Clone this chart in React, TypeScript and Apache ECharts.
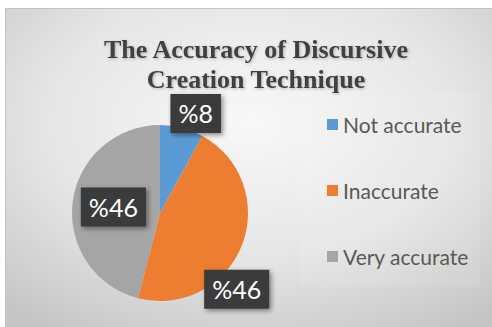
import React, { useEffect, useRef } from "react";
import * as echarts from "echarts";

const categories = ["Not accurate", "Inaccurate", "Very accurate"];
const values = [8, 46, 46];
const titleText = "The Accuracy of Discursive\nCreation Technique";

const colors = ["#5b9bd5", "#ed7d31", "#a5a5a5"];
const labelOffsets = [
  [24, -54],
  [33, 59],
  [0, 0],
];

export default function App() {
  const ref = useRef<HTMLDivElement>(null);
  useEffect(() => {
    if (!ref.current) return;
    const chart = echarts.init(ref.current, null, { renderer: "svg" });
    const data = categories.map((name, i) => ({
      name,
      value: values[i],
      itemStyle: { color: colors[i] },
      label: { offset: labelOffsets[i] },
    }));
    chart.setOption({
      animation: false,
      backgroundColor: "#ffffff",
      graphic: [
        {
          type: "rect",
          shape: { x: 5.5, y: 8.5, width: 492, height: 325 },
          style: {
            fill: new echarts.graphic.RadialGradient(0.5, 0.35, 0.75, [
              { offset: 0, color: "#f8f8f8" },
              { offset: 0.55, color: "#e6e6e6" },
              { offset: 1, color: "#c6c6c6" },
            ]),
            stroke: "#c4c4c4",
            lineWidth: 1,
          },
          z: -10,
        },
        {
          type: "rect",
          shape: { x: 300, y: 92, width: 180, height: 195 },
          style: {
            fill: "rgba(255,255,255,0.08)",
            shadowBlur: 3,
            shadowColor: "rgba(0,0,0,0.03)",
          },
          z: -9,
        },
      ],
      title: {
        text: titleText,
        left: 251,
        textAlign: "center",
        top: 29,
        textStyle: {
          fontFamily: "Liberation Serif",
          fontWeight: "bold",
          fontSize: 26,
          lineHeight: 30,
          color: "#404040",
          textShadowColor: "rgba(0,0,0,0.25)",
          textShadowBlur: 3,
          textShadowOffsetX: 1,
          textShadowOffsetY: 1,
        },
      },
      legend: {
        orient: "vertical",
        left: 322,
        top: 109,
        itemWidth: 11,
        itemHeight: 11,
        itemGap: 45,
        icon: "rect",
        textStyle: {
          fontFamily: "Lato",
          fontSize: 21,
          color: "#595959",
          padding: [0, 0, 0, 0],
        },
        data: categories,
      },
      series: [
        {
          type: "pie",
          center: [160, 213],
          radius: 88,
          startAngle: 90,
          clockwise: true,
          data,
          itemStyle: { borderWidth: 0 },
          label: {
            show: true,
            position: "inside",
            formatter: (p: any) => "%" + p.value,
            fontFamily: "Lato",
            fontSize: 25,
            color: "#ffffff",
            backgroundColor: "#3a3a3a",
            padding: [8, 8, 6, 8],
            shadowColor: "rgba(0,0,0,0.45)",
            shadowBlur: 5,
            shadowOffsetX: 2,
            shadowOffsetY: 2,
          },
          labelLine: { show: false },
          emphasis: { disabled: true },
        },
      ],
    });
    return () => chart.dispose();
  }, []);
  return (
    <div
      ref={ref}
      style={{ position: "fixed", left: 0, top: 0, width: 492, height: 327 }}
    />
  );
}
